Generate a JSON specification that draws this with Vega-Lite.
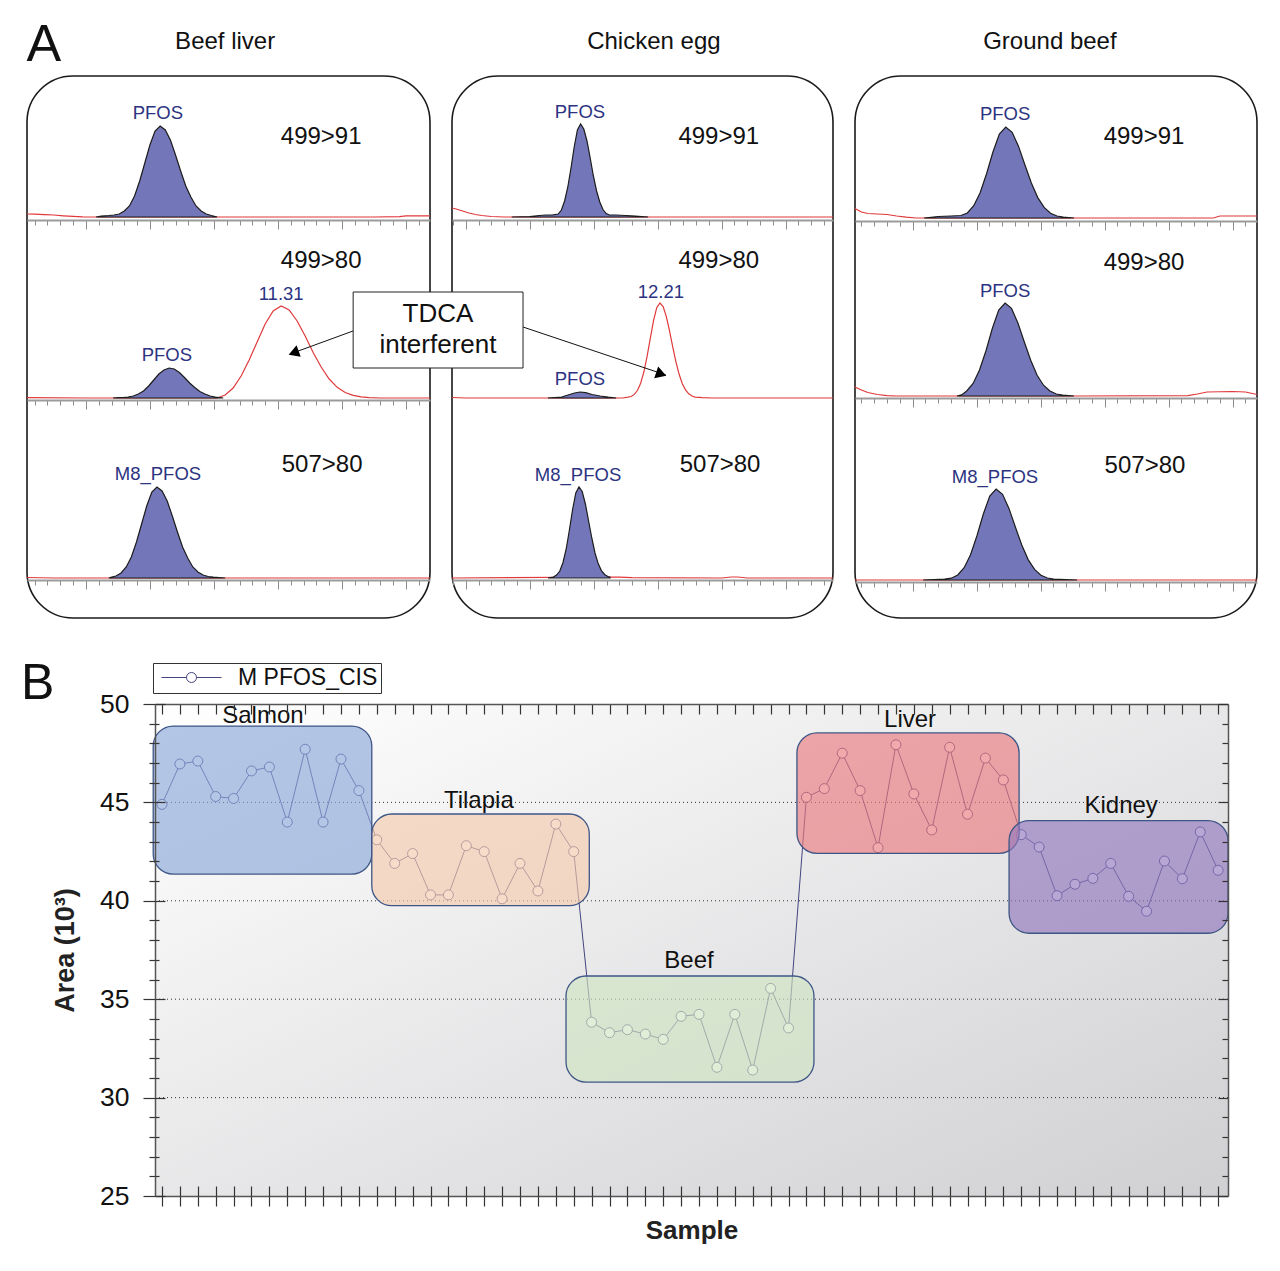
{
"$schema":"https://vega.github.io/schema/vega-lite/v6.json",
"background":"#ffffff",
"padding":{"left":21,"top":18,"right":0,"bottom":0},
"config":{"font":"Liberation Sans","view":{"stroke":null},"axis":{"labelFont":"Liberation Sans","titleFont":"Liberation Sans"},"legend":{"labelFont":"Liberation Sans"},"text":{"font":"Liberation Sans"}},
"spacing":39,
"vconcat":[
{"hconcat":[
{"width":403,"height":542,
"view":{"stroke":"#1a1a1a","strokeWidth":1.6,"cornerRadius":46},
"resolve":{"scale":{"y":"independent"},"axis":{"x":"independent"}},
"layer":[
{"encoding":{"x":{"field":"t","type":"quantitative","scale":{"domain":[10.516,11.775],"nice":false,"zero":false},"axis":{"orient":"bottom","offset":-398,"values":[10.54,10.58,10.62,10.66,10.70,10.74,10.78,10.82,10.86,10.90,10.94,10.98,11.02,11.06,11.10,11.14,11.18,11.22,11.26,11.30,11.34,11.38,11.42,11.46,11.50,11.54,11.58,11.62,11.66,11.70,11.74],"labels":false,"title":null,"grid":false,"domainColor":"#9b9b9b","domainWidth":2,"tickColor":"#8c8c8c","tickWidth":1,"tickSize":{"condition":{"test":"abs((datum.value-0.1)*5-round((datum.value-0.1)*5))<0.02","value":9},"value":5}}},
"y":{"field":"i","type":"quantitative","scale":{"domain":[-401,141],"nice":false,"zero":false},"axis":null}},
"layer":[
{"data":{"values":[{"t":10.516,"i":3},{"t":10.54,"i":2.8},{"t":10.57,"i":2.4},{"t":10.6,"i":2},{"t":10.63,"i":1.2},{"t":10.66,"i":0.6},{"t":10.69,"i":0.2},{"t":10.73,"i":0},{"t":11.11,"i":0},{"t":11.6,"i":0},{"t":11.68,"i":0.3},{"t":11.7,"i":1.2},{"t":11.775,"i":1.2}]},"mark":{"type":"line","color":"#e0393b","strokeWidth":1.2}},
{"data":{"values":[{"t":10.732,"i":0},{"t":10.748,"i":1},{"t":10.772,"i":1.5},{"t":10.788,"i":2},{"t":10.804,"i":3},{"t":10.82,"i":6},{"t":10.836,"i":11},{"t":10.852,"i":21},{"t":10.868,"i":36},{"t":10.884,"i":54},{"t":10.9,"i":72},{"t":10.916,"i":86},{"t":10.932,"i":91},{"t":10.948,"i":87},{"t":10.964,"i":77},{"t":10.98,"i":62},{"t":10.996,"i":46},{"t":11.012,"i":31},{"t":11.028,"i":20},{"t":11.044,"i":11},{"t":11.06,"i":6},{"t":11.076,"i":3},{"t":11.092,"i":1.5},{"t":11.11,"i":0}]},"mark":{"type":"area","fill":"#7377b9","stroke":"#1c1c1c","strokeWidth":1.2},"encoding":{"y2":{"datum":0}}},
{"data":{"values":[{"t":10.732},{"t":11.11}]},"mark":{"type":"rule","color":"#1c1c1c","strokeWidth":1.3},"encoding":{"y":{"datum":-7,"type":"quantitative","scale":{"domain":[-401,141],"nice":false,"zero":false},"axis":null},"y2":{"datum":7}}},
{"data":{"values":[{"t":10.925,"i":104,"label":"PFOS"}]},"mark":{"type":"text","color":"#2c3381","fontSize":18.5},"encoding":{"text":{"field":"label"}}},
{"data":{"values":[{"t":11.435,"i":80,"label":"499>91"}]},"mark":{"type":"text","color":"#111111","fontSize":24},"encoding":{"text":{"field":"label"}}}
]},
{"encoding":{"x":{"field":"t","type":"quantitative","scale":{"domain":[10.516,11.775],"nice":false,"zero":false},"axis":{"orient":"bottom","offset":-218,"values":[10.54,10.58,10.62,10.66,10.70,10.74,10.78,10.82,10.86,10.90,10.94,10.98,11.02,11.06,11.10,11.14,11.18,11.22,11.26,11.30,11.34,11.38,11.42,11.46,11.50,11.54,11.58,11.62,11.66,11.70,11.74],"labels":false,"title":null,"grid":false,"domainColor":"#9b9b9b","domainWidth":2,"tickColor":"#8c8c8c","tickWidth":1,"tickSize":{"condition":{"test":"abs((datum.value-0.1)*5-round((datum.value-0.1)*5))<0.02","value":9},"value":5}}},
"y":{"field":"i","type":"quantitative","scale":{"domain":[-220,322],"nice":false,"zero":false},"axis":null}},
"layer":[
{"data":{"values":[{"t":10.516,"i":0.3},{"t":10.7,"i":0},{"t":11.11,"i":0},{"t":11.135,"i":3},{"t":11.16,"i":10},{"t":11.185,"i":22},{"t":11.21,"i":38},{"t":11.235,"i":56},{"t":11.26,"i":74},{"t":11.285,"i":87},{"t":11.31,"i":92},{"t":11.335,"i":88},{"t":11.36,"i":77},{"t":11.385,"i":62},{"t":11.41,"i":45.5},{"t":11.435,"i":31},{"t":11.46,"i":19},{"t":11.485,"i":10.7},{"t":11.51,"i":5.5},{"t":11.535,"i":2.7},{"t":11.56,"i":1.1},{"t":11.585,"i":0.3},{"t":11.62,"i":0},{"t":11.775,"i":0}]},"mark":{"type":"line","color":"#e0393b","strokeWidth":1.2}},
{"data":{"values":[{"t":10.785,"i":0},{"t":10.8,"i":0.3},{"t":10.816,"i":0.5},{"t":10.832,"i":1},{"t":10.848,"i":2},{"t":10.864,"i":4},{"t":10.88,"i":7},{"t":10.896,"i":12},{"t":10.912,"i":18},{"t":10.928,"i":24},{"t":10.944,"i":28},{"t":10.96,"i":30},{"t":10.976,"i":29},{"t":10.992,"i":25.5},{"t":11.008,"i":20.5},{"t":11.024,"i":15},{"t":11.04,"i":10.5},{"t":11.056,"i":6.5},{"t":11.072,"i":4},{"t":11.088,"i":2},{"t":11.104,"i":1},{"t":11.129,"i":0}]},"mark":{"type":"area","fill":"#7377b9","stroke":"#1c1c1c","strokeWidth":1.2},"encoding":{"y2":{"datum":0}}},
{"data":{"values":[{"t":10.785},{"t":11.129}]},"mark":{"type":"rule","color":"#1c1c1c","strokeWidth":1.3},"encoding":{"y":{"datum":-7,"type":"quantitative","scale":{"domain":[-220,322],"nice":false,"zero":false},"axis":null},"y2":{"datum":7}}},
{"data":{"values":[{"t":10.953,"i":43,"label":"PFOS"},{"t":11.31,"i":104,"label":"11.31"}]},"mark":{"type":"text","color":"#2c3381","fontSize":18.5},"encoding":{"text":{"field":"label"}}},
{"data":{"values":[{"t":11.435,"i":137,"label":"499>80"}]},"mark":{"type":"text","color":"#111111","fontSize":24},"encoding":{"text":{"field":"label"}}}
]},
{"encoding":{"x":{"field":"t","type":"quantitative","scale":{"domain":[10.516,11.775],"nice":false,"zero":false},"axis":{"orient":"bottom","offset":-38,"values":[10.54,10.58,10.62,10.66,10.70,10.74,10.78,10.82,10.86,10.90,10.94,10.98,11.02,11.06,11.10,11.14,11.18,11.22,11.26,11.30,11.34,11.38,11.42,11.46,11.50,11.54,11.58,11.62,11.66,11.70,11.74],"labels":false,"title":null,"grid":false,"domainColor":"#9b9b9b","domainWidth":2,"tickColor":"#8c8c8c","tickWidth":1,"tickSize":{"condition":{"test":"abs((datum.value-0.1)*5-round((datum.value-0.1)*5))<0.02","value":9},"value":5}}},
"y":{"field":"i","type":"quantitative","scale":{"domain":[-40,502],"nice":false,"zero":false},"axis":null}},
"layer":[
{"data":{"values":[{"t":10.516,"i":0.5},{"t":10.6,"i":0},{"t":11.775,"i":0}]},"mark":{"type":"line","color":"#e0393b","strokeWidth":1.2}},
{"data":{"values":[{"t":10.772,"i":0},{"t":10.778,"i":0.8},{"t":10.794,"i":2},{"t":10.81,"i":5},{"t":10.826,"i":11},{"t":10.842,"i":21},{"t":10.858,"i":36},{"t":10.874,"i":54},{"t":10.89,"i":72},{"t":10.906,"i":86},{"t":10.922,"i":91},{"t":10.938,"i":87},{"t":10.954,"i":77},{"t":10.97,"i":62},{"t":10.986,"i":46},{"t":11.002,"i":31},{"t":11.018,"i":20},{"t":11.034,"i":11},{"t":11.05,"i":6},{"t":11.066,"i":3},{"t":11.082,"i":1.5},{"t":11.098,"i":0.8},{"t":11.135,"i":0}]},"mark":{"type":"area","fill":"#7377b9","stroke":"#1c1c1c","strokeWidth":1.2},"encoding":{"y2":{"datum":0}}},
{"data":{"values":[{"t":10.772},{"t":11.135}]},"mark":{"type":"rule","color":"#1c1c1c","strokeWidth":1.3},"encoding":{"y":{"datum":-7,"type":"quantitative","scale":{"domain":[-40,502],"nice":false,"zero":false},"axis":null},"y2":{"datum":7}}},
{"data":{"values":[{"t":10.925,"i":104,"label":"M8_PFOS"}]},"mark":{"type":"text","color":"#2c3381","fontSize":18.5},"encoding":{"text":{"field":"label"}}},
{"data":{"values":[{"t":11.438,"i":113,"label":"507>80"}]},"mark":{"type":"text","color":"#111111","fontSize":24},"encoding":{"text":{"field":"label"}}}
]},
{"data":{"values":[{}]},"mark":{"type":"text","text":"A","fontSize":52,"color":"#111111"},"encoding":{"x":{"datum":10.569,"type":"quantitative","scale":{"domain":[10.516,11.775],"nice":false,"zero":false},"axis":null},"y":{"datum":172,"type":"quantitative","scale":{"domain":[-401,141],"nice":false,"zero":false},"axis":null}}},
{"data":{"values":[{}]},"mark":{"type":"text","text":"Beef liver","fontSize":24,"color":"#111111"},"encoding":{"x":{"datum":11.135,"type":"quantitative","scale":{"domain":[10.516,11.775],"nice":false,"zero":false},"axis":null},"y":{"datum":175.5,"type":"quantitative","scale":{"domain":[-401,141],"nice":false,"zero":false},"axis":null}}}
]},
{"width":381,"height":542,
"view":{"stroke":"#1a1a1a","strokeWidth":1.6,"cornerRadius":46},
"resolve":{"scale":{"y":"independent"},"axis":{"x":"independent"}},
"layer":[
{"encoding":{"x":{"field":"t","type":"quantitative","scale":{"domain":[11.557,12.748],"nice":false,"zero":false},"axis":{"orient":"bottom","offset":-398,"values":[11.56,11.60,11.64,11.68,11.72,11.76,11.80,11.84,11.88,11.92,11.96,12.00,12.04,12.08,12.12,12.16,12.20,12.24,12.28,12.32,12.36,12.40,12.44,12.48,12.52,12.56,12.60,12.64,12.68,12.72],"labels":false,"title":null,"grid":false,"domainColor":"#9b9b9b","domainWidth":2,"tickColor":"#8c8c8c","tickWidth":1,"tickSize":{"condition":{"test":"abs(datum.value*5-round(datum.value*5))<0.02","value":9},"value":5}}},
"y":{"field":"i","type":"quantitative","scale":{"domain":[-401,141],"nice":false,"zero":false},"axis":null}},
"layer":[
{"data":{"values":[{"t":11.557,"i":9},{"t":11.57,"i":8},{"t":11.59,"i":6},{"t":11.61,"i":4},{"t":11.63,"i":2.5},{"t":11.65,"i":1.5},{"t":11.68,"i":0.5},{"t":11.72,"i":0},{"t":12.748,"i":0}]},"mark":{"type":"line","color":"#e0393b","strokeWidth":1.2}},
{"data":{"values":[{"t":11.744,"i":0},{"t":11.8,"i":0.5},{"t":11.83,"i":1.5},{"t":11.85,"i":2},{"t":11.87,"i":2},{"t":11.889,"i":3},{"t":11.899,"i":7},{"t":11.909,"i":16},{"t":11.919,"i":30},{"t":11.929,"i":49},{"t":11.939,"i":70},{"t":11.949,"i":87},{"t":11.959,"i":93},{"t":11.969,"i":88},{"t":11.979,"i":76},{"t":11.989,"i":59},{"t":11.999,"i":41},{"t":12.009,"i":26},{"t":12.019,"i":15},{"t":12.029,"i":7.5},{"t":12.039,"i":3.5},{"t":12.049,"i":2},{"t":12.07,"i":2},{"t":12.1,"i":1.5},{"t":12.13,"i":1},{"t":12.17,"i":0}]},"mark":{"type":"area","fill":"#7377b9","stroke":"#1c1c1c","strokeWidth":1.2},"encoding":{"y2":{"datum":0}}},
{"data":{"values":[{"t":11.744},{"t":12.17}]},"mark":{"type":"rule","color":"#1c1c1c","strokeWidth":1.3},"encoding":{"y":{"datum":-7,"type":"quantitative","scale":{"domain":[-401,141],"nice":false,"zero":false},"axis":null},"y2":{"datum":7}}},
{"data":{"values":[{"t":11.957,"i":105,"label":"PFOS"}]},"mark":{"type":"text","color":"#2c3381","fontSize":18.5},"encoding":{"text":{"field":"label"}}},
{"data":{"values":[{"t":12.391,"i":80,"label":"499>91"}]},"mark":{"type":"text","color":"#111111","fontSize":24},"encoding":{"text":{"field":"label"}}}
]},
{"encoding":{"x":{"field":"t","type":"quantitative","scale":{"domain":[11.557,12.748],"nice":false,"zero":false},"axis":{"orient":"bottom","offset":-218,"values":[11.56,11.60,11.64,11.68,11.72,11.76,11.80,11.84,11.88,11.92,11.96,12.00,12.04,12.08,12.12,12.16,12.20,12.24,12.28,12.32,12.36,12.40,12.44,12.48,12.52,12.56,12.60,12.64,12.68,12.72],"labels":false,"title":null,"grid":false,"domainColor":"#9b9b9b","domainWidth":2,"tickColor":"#8c8c8c","tickWidth":1,"tickSize":{"condition":{"test":"abs(datum.value*5-round(datum.value*5))<0.02","value":9},"value":5}}},
"y":{"field":"i","type":"quantitative","scale":{"domain":[-220,322],"nice":false,"zero":false},"axis":null}},
"layer":[
{"data":{"values":[{"t":11.557,"i":0.5},{"t":11.6,"i":0},{"t":12.09,"i":0},{"t":12.107,"i":0.8},{"t":12.117,"i":1.5},{"t":12.127,"i":3.6},{"t":12.137,"i":7.7},{"t":12.147,"i":15},{"t":12.157,"i":26.4},{"t":12.167,"i":41.8},{"t":12.177,"i":59.9},{"t":12.187,"i":77.4},{"t":12.197,"i":90.3},{"t":12.207,"i":95},{"t":12.217,"i":91.4},{"t":12.227,"i":81.4},{"t":12.237,"i":67.1},{"t":12.247,"i":51.2},{"t":12.257,"i":36.2},{"t":12.267,"i":23.7},{"t":12.277,"i":14.3},{"t":12.287,"i":8.1},{"t":12.297,"i":4.2},{"t":12.307,"i":2},{"t":12.317,"i":0.9},{"t":12.34,"i":0.3},{"t":12.37,"i":0},{"t":12.748,"i":0}]},"mark":{"type":"line","color":"#e0393b","strokeWidth":1.2}},
{"data":{"values":[{"t":11.857,"i":0},{"t":11.9,"i":1},{"t":11.92,"i":3},{"t":11.94,"i":5},{"t":11.957,"i":6},{"t":11.975,"i":5.3},{"t":11.995,"i":3.5},{"t":12.02,"i":2},{"t":12.045,"i":0.8},{"t":12.07,"i":0}]},"mark":{"type":"area","fill":"#7377b9","stroke":"#1c1c1c","strokeWidth":1.2},"encoding":{"y2":{"datum":0}}},
{"data":{"values":[{"t":11.857},{"t":12.07}]},"mark":{"type":"rule","color":"#1c1c1c","strokeWidth":1.3},"encoding":{"y":{"datum":-7,"type":"quantitative","scale":{"domain":[-220,322],"nice":false,"zero":false},"axis":null},"y2":{"datum":7}}},
{"data":{"values":[{"t":11.957,"i":19,"label":"PFOS"},{"t":12.21,"i":106,"label":"12.21"}]},"mark":{"type":"text","color":"#2c3381","fontSize":18.5},"encoding":{"text":{"field":"label"}}},
{"data":{"values":[{"t":12.391,"i":137,"label":"499>80"}]},"mark":{"type":"text","color":"#111111","fontSize":24},"encoding":{"text":{"field":"label"}}},
{"data":{"values":[{"x1":11.2476,"y1":67,"x2":11.0508,"y2":44},{"x1":11.779,"y1":71,"x2":12.2258,"y2":23}]},"mark":{"type":"rule","color":"#111111","strokeWidth":1},"encoding":{"x":{"field":"x1","type":"quantitative","scale":{"domain":[11.557,12.748],"nice":false,"zero":false},"axis":null},"x2":{"field":"x2"},"y":{"field":"y1","type":"quantitative","scale":{"domain":[-220,322],"nice":false,"zero":false},"axis":null},"y2":{"field":"y2"}}},
{"data":{"values":[{"t":11.062,"i":45.1}]},"mark":{"type":"point","shape":"triangle-up","filled":true,"color":"#000000","size":150,"angle":250,"opacity":1}},
{"data":{"values":[{"t":12.211,"i":23.9}]},"mark":{"type":"point","shape":"triangle-up","filled":true,"color":"#000000","size":150,"angle":109,"opacity":1}},
{"data":{"values":[{"x1":11.248,"x2":11.779,"y1":30,"y2":106}]},"mark":{"type":"rect","fill":"#ffffff","stroke":"#222222","strokeWidth":1},"encoding":{"x":{"field":"x1","type":"quantitative","scale":{"domain":[11.557,12.748],"nice":false,"zero":false},"axis":null},"x2":{"field":"x2"},"y":{"field":"y1","type":"quantitative","scale":{"domain":[-220,322],"nice":false,"zero":false},"axis":null},"y2":{"field":"y2"}}},
{"data":{"values":[{"t":11.513,"i":84,"label":"TDCA"},{"t":11.513,"i":53,"label":"interferent"}]},"mark":{"type":"text","color":"#111111","fontSize":26},"encoding":{"text":{"field":"label"}}}
]},
{"encoding":{"x":{"field":"t","type":"quantitative","scale":{"domain":[11.557,12.748],"nice":false,"zero":false},"axis":{"orient":"bottom","offset":-38,"values":[11.56,11.60,11.64,11.68,11.72,11.76,11.80,11.84,11.88,11.92,11.96,12.00,12.04,12.08,12.12,12.16,12.20,12.24,12.28,12.32,12.36,12.40,12.44,12.48,12.52,12.56,12.60,12.64,12.68,12.72],"labels":false,"title":null,"grid":false,"domainColor":"#9b9b9b","domainWidth":2,"tickColor":"#8c8c8c","tickWidth":1,"tickSize":{"condition":{"test":"abs(datum.value*5-round(datum.value*5))<0.02","value":9},"value":5}}},
"y":{"field":"i","type":"quantitative","scale":{"domain":[-40,502],"nice":false,"zero":false},"axis":null}},
"layer":[
{"data":{"values":[{"t":11.557,"i":0},{"t":12.05,"i":1},{"t":12.08,"i":0.8},{"t":12.12,"i":0.3},{"t":12.4,"i":0},{"t":12.43,"i":1},{"t":12.45,"i":1},{"t":12.48,"i":0},{"t":12.748,"i":0}]},"mark":{"type":"line","color":"#e0393b","strokeWidth":1.2}},
{"data":{"values":[{"t":11.857,"i":0},{"t":11.874,"i":1},{"t":11.884,"i":3},{"t":11.894,"i":7},{"t":11.904,"i":15.5},{"t":11.914,"i":29},{"t":11.924,"i":48},{"t":11.934,"i":68.5},{"t":11.944,"i":85},{"t":11.954,"i":91},{"t":11.964,"i":86.5},{"t":11.974,"i":74},{"t":11.984,"i":57},{"t":11.994,"i":40},{"t":12.004,"i":25},{"t":12.014,"i":14.4},{"t":12.024,"i":7.4},{"t":12.034,"i":3.5},{"t":12.044,"i":1.5},{"t":12.051,"i":0.8}]},"mark":{"type":"area","fill":"#7377b9","stroke":"#1c1c1c","strokeWidth":1.2},"encoding":{"y2":{"datum":0}}},
{"data":{"values":[{"t":11.857},{"t":12.051}]},"mark":{"type":"rule","color":"#1c1c1c","strokeWidth":1.3},"encoding":{"y":{"datum":-7,"type":"quantitative","scale":{"domain":[-40,502],"nice":false,"zero":false},"axis":null},"y2":{"datum":7}}},
{"data":{"values":[{"t":11.951,"i":103,"label":"M8_PFOS"}]},"mark":{"type":"text","color":"#2c3381","fontSize":18.5},"encoding":{"text":{"field":"label"}}},
{"data":{"values":[{"t":12.395,"i":113,"label":"507>80"}]},"mark":{"type":"text","color":"#111111","fontSize":24},"encoding":{"text":{"field":"label"}}}
]},
{"data":{"values":[{}]},"mark":{"type":"text","text":"Chicken egg","fontSize":24,"color":"#111111"},"encoding":{"x":{"datum":12.188,"type":"quantitative","scale":{"domain":[11.557,12.748],"nice":false,"zero":false},"axis":null},"y":{"datum":175.5,"type":"quantitative","scale":{"domain":[-401,141],"nice":false,"zero":false},"axis":null}}}
]},
{"width":402,"height":542,
"view":{"stroke":"#1a1a1a","strokeWidth":1.6,"cornerRadius":46},
"resolve":{"scale":{"y":"independent"},"axis":{"x":"independent"}},
"layer":[
{"encoding":{"x":{"field":"t","type":"quantitative","scale":{"domain":[10.42,11.676],"nice":false,"zero":false},"axis":{"orient":"bottom","offset":-397,"values":[10.44,10.48,10.52,10.56,10.60,10.64,10.68,10.72,10.76,10.80,10.84,10.88,10.92,10.96,11.00,11.04,11.08,11.12,11.16,11.20,11.24,11.28,11.32,11.36,11.40,11.44,11.48,11.52,11.56,11.60,11.64],"labels":false,"title":null,"grid":false,"domainColor":"#9b9b9b","domainWidth":2,"tickColor":"#8c8c8c","tickWidth":1,"tickSize":{"condition":{"test":"abs(datum.value*5-round(datum.value*5))<0.02","value":9},"value":5}}},
"y":{"field":"i","type":"quantitative","scale":{"domain":[-400,142],"nice":false,"zero":false},"axis":null}},
"layer":[
{"data":{"values":[{"t":10.42,"i":9.5},{"t":10.44,"i":6},{"t":10.46,"i":4.5},{"t":10.49,"i":4},{"t":10.52,"i":3.5},{"t":10.55,"i":2},{"t":10.58,"i":0.8},{"t":10.61,"i":0},{"t":11.1,"i":0},{"t":11.54,"i":0},{"t":11.56,"i":2},{"t":11.676,"i":2}]},"mark":{"type":"line","color":"#e0393b","strokeWidth":1.2}},
{"data":{"values":[{"t":10.636,"i":0},{"t":10.68,"i":1.5},{"t":10.72,"i":2},{"t":10.751,"i":2.5},{"t":10.771,"i":5},{"t":10.791,"i":12.3},{"t":10.811,"i":25.3},{"t":10.831,"i":44.3},{"t":10.851,"i":66},{"t":10.871,"i":84},{"t":10.891,"i":91},{"t":10.911,"i":85.7},{"t":10.931,"i":71.6},{"t":10.951,"i":53},{"t":10.971,"i":35},{"t":10.991,"i":20.4},{"t":11.011,"i":10.6},{"t":11.031,"i":4.8},{"t":11.051,"i":2},{"t":11.071,"i":0.8},{"t":11.104,"i":0}]},"mark":{"type":"area","fill":"#7377b9","stroke":"#1c1c1c","strokeWidth":1.2},"encoding":{"y2":{"datum":0}}},
{"data":{"values":[{"t":10.636},{"t":11.104}]},"mark":{"type":"rule","color":"#1c1c1c","strokeWidth":1.3},"encoding":{"y":{"datum":-7,"type":"quantitative","scale":{"domain":[-400,142],"nice":false,"zero":false},"axis":null},"y2":{"datum":7}}},
{"data":{"values":[{"t":10.889,"i":104,"label":"PFOS"}]},"mark":{"type":"text","color":"#2c3381","fontSize":18.5},"encoding":{"text":{"field":"label"}}},
{"data":{"values":[{"t":11.323,"i":81,"label":"499>91"}]},"mark":{"type":"text","color":"#111111","fontSize":24},"encoding":{"text":{"field":"label"}}}
]},
{"encoding":{"x":{"field":"t","type":"quantitative","scale":{"domain":[10.42,11.676],"nice":false,"zero":false},"axis":{"orient":"bottom","offset":-220,"values":[10.44,10.48,10.52,10.56,10.60,10.64,10.68,10.72,10.76,10.80,10.84,10.88,10.92,10.96,11.00,11.04,11.08,11.12,11.16,11.20,11.24,11.28,11.32,11.36,11.40,11.44,11.48,11.52,11.56,11.60,11.64],"labels":false,"title":null,"grid":false,"domainColor":"#9b9b9b","domainWidth":2,"tickColor":"#8c8c8c","tickWidth":1,"tickSize":{"condition":{"test":"abs(datum.value*5-round(datum.value*5))<0.02","value":9},"value":5}}},
"y":{"field":"i","type":"quantitative","scale":{"domain":[-222,320],"nice":false,"zero":false},"axis":null}},
"layer":[
{"data":{"values":[{"t":10.42,"i":9},{"t":10.44,"i":6},{"t":10.46,"i":3.5},{"t":10.49,"i":1.5},{"t":10.52,"i":0.3},{"t":10.55,"i":0},{"t":11.1,"i":0},{"t":11.46,"i":0.3},{"t":11.49,"i":2},{"t":11.52,"i":4},{"t":11.6,"i":4.5},{"t":11.64,"i":4},{"t":11.676,"i":1.5}]},"mark":{"type":"line","color":"#e0393b","strokeWidth":1.2}},
{"data":{"values":[{"t":10.739,"i":0},{"t":10.755,"i":1.5},{"t":10.769,"i":5},{"t":10.789,"i":12.5},{"t":10.809,"i":26},{"t":10.829,"i":45},{"t":10.849,"i":67.5},{"t":10.869,"i":86},{"t":10.889,"i":93},{"t":10.909,"i":87.6},{"t":10.929,"i":73},{"t":10.949,"i":54},{"t":10.969,"i":35.7},{"t":10.989,"i":20.8},{"t":11.009,"i":10.8},{"t":11.029,"i":5},{"t":11.049,"i":2},{"t":11.069,"i":0.8},{"t":11.104,"i":0}]},"mark":{"type":"area","fill":"#7377b9","stroke":"#1c1c1c","strokeWidth":1.2},"encoding":{"y2":{"datum":0}}},
{"data":{"values":[{"t":10.739},{"t":11.104}]},"mark":{"type":"rule","color":"#1c1c1c","strokeWidth":1.3},"encoding":{"y":{"datum":-7,"type":"quantitative","scale":{"domain":[-222,320],"nice":false,"zero":false},"axis":null},"y2":{"datum":7}}},
{"data":{"values":[{"t":10.889,"i":105,"label":"PFOS"}]},"mark":{"type":"text","color":"#2c3381","fontSize":18.5},"encoding":{"text":{"field":"label"}}},
{"data":{"values":[{"t":11.323,"i":133,"label":"499>80"}]},"mark":{"type":"text","color":"#111111","fontSize":24},"encoding":{"text":{"field":"label"}}}
]},
{"encoding":{"x":{"field":"t","type":"quantitative","scale":{"domain":[10.42,11.676],"nice":false,"zero":false},"axis":{"orient":"bottom","offset":-36,"values":[10.44,10.48,10.52,10.56,10.60,10.64,10.68,10.72,10.76,10.80,10.84,10.88,10.92,10.96,11.00,11.04,11.08,11.12,11.16,11.20,11.24,11.28,11.32,11.36,11.40,11.44,11.48,11.52,11.56,11.60,11.64],"labels":false,"title":null,"grid":false,"domainColor":"#9b9b9b","domainWidth":2,"tickColor":"#8c8c8c","tickWidth":1,"tickSize":{"condition":{"test":"abs(datum.value*5-round(datum.value*5))<0.02","value":9},"value":5}}},
"y":{"field":"i","type":"quantitative","scale":{"domain":[-38,504],"nice":false,"zero":false},"axis":null}},
"layer":[
{"data":{"values":[{"t":10.42,"i":0},{"t":11.676,"i":0}]},"mark":{"type":"line","color":"#e0393b","strokeWidth":1.2}},
{"data":{"values":[{"t":10.633,"i":0},{"t":10.7,"i":0.8},{"t":10.721,"i":1.8},{"t":10.741,"i":5},{"t":10.761,"i":12.3},{"t":10.781,"i":25.3},{"t":10.801,"i":44.3},{"t":10.821,"i":66},{"t":10.841,"i":84},{"t":10.861,"i":91},{"t":10.881,"i":85.7},{"t":10.901,"i":71.6},{"t":10.921,"i":53},{"t":10.941,"i":35},{"t":10.961,"i":20.4},{"t":10.981,"i":10.6},{"t":11.001,"i":4.8},{"t":11.021,"i":2},{"t":11.041,"i":0.8},{"t":11.114,"i":0}]},"mark":{"type":"area","fill":"#7377b9","stroke":"#1c1c1c","strokeWidth":1.2},"encoding":{"y2":{"datum":0}}},
{"data":{"values":[{"t":10.633},{"t":11.114}]},"mark":{"type":"rule","color":"#1c1c1c","strokeWidth":1.3},"encoding":{"y":{"datum":-7,"type":"quantitative","scale":{"domain":[-38,504],"nice":false,"zero":false},"axis":null},"y2":{"datum":7}}},
{"data":{"values":[{"t":10.8575,"i":103,"label":"M8_PFOS"}]},"mark":{"type":"text","color":"#2c3381","fontSize":18.5},"encoding":{"text":{"field":"label"}}},
{"data":{"values":[{"t":11.326,"i":114,"label":"507>80"}]},"mark":{"type":"text","color":"#111111","fontSize":24},"encoding":{"text":{"field":"label"}}}
]},
{"data":{"values":[{}]},"mark":{"type":"text","text":"Ground beef","fontSize":24,"color":"#111111"},"encoding":{"x":{"datum":11.029,"type":"quantitative","scale":{"domain":[10.42,11.676],"nice":false,"zero":false},"axis":null},"y":{"datum":176.5,"type":"quantitative","scale":{"domain":[-400,142],"nice":false,"zero":false},"axis":null}}}
]}
],"spacing":22,"bounds":"flush"},
{"hconcat":[
{"width":1,"height":1,"data":{"values":[]},"mark":{"type":"point","opacity":0}},
{"width":1073,"height":492,
"data":{"values":[
{"sample":1,"area":44.9},{"sample":2,"area":46.95},{"sample":3,"area":47.1},{"sample":4,"area":45.3},{"sample":5,"area":45.2},{"sample":6,"area":46.6},{"sample":7,"area":46.8},{"sample":8,"area":44.0},{"sample":9,"area":47.7},{"sample":10,"area":44.0},{"sample":11,"area":47.2},{"sample":12,"area":45.6},
{"sample":13,"area":43.1},{"sample":14,"area":41.9},{"sample":15,"area":42.4},{"sample":16,"area":40.3},{"sample":17,"area":40.3},{"sample":18,"area":42.8},{"sample":19,"area":42.5},{"sample":20,"area":40.1},{"sample":21,"area":41.9},{"sample":22,"area":40.5},{"sample":23,"area":43.9},{"sample":24,"area":42.5},
{"sample":25,"area":33.83},{"sample":26,"area":33.3},{"sample":27,"area":33.45},{"sample":28,"area":33.23},{"sample":29,"area":32.96},{"sample":30,"area":34.13},{"sample":31,"area":34.23},{"sample":32,"area":31.54},{"sample":33,"area":34.23},{"sample":34,"area":31.4},{"sample":35,"area":35.55},{"sample":36,"area":33.54},
{"sample":37,"area":45.26},{"sample":38,"area":45.7},{"sample":39,"area":47.5},{"sample":40,"area":45.6},{"sample":41,"area":42.7},{"sample":42,"area":47.93},{"sample":43,"area":45.43},{"sample":44,"area":43.6},{"sample":45,"area":47.8},{"sample":46,"area":44.4},{"sample":47,"area":47.25},{"sample":48,"area":46.14},
{"sample":49,"area":43.36},{"sample":50,"area":42.73},{"sample":51,"area":40.26},{"sample":52,"area":40.84},{"sample":53,"area":41.14},{"sample":54,"area":41.9},{"sample":55,"area":40.23},{"sample":56,"area":39.47},{"sample":57,"area":42.02},{"sample":58,"area":41.12},{"sample":59,"area":43.5},{"sample":60,"area":41.55}
]},
"resolve":{"axis":{"x":"independent","y":"independent"}},
"layer":[
{"data":{"values":[{}]},"mark":{"type":"rect","color":{"gradient":"linear","x1":0,"y1":0,"x2":1,"y2":1,"stops":[{"offset":0,"color":"#ffffff"},{"offset":1,"color":"#d0d0d3"}]}},
"encoding":{"x":{"datum":0.61,"type":"quantitative","scale":{"domain":[0.61,60.55],"nice":false,"zero":false},"axis":{"orient":"bottom","values":[1,2,3,4,5,6,7,8,9,10,11,12,13,14,15,16,17,18,19,20,21,22,23,24,25,26,27,28,29,30,31,32,33,34,35,36,37,38,39,40,41,42,43,44,45,46,47,48,49,50,51,52,53,54,55,56,57,58,59,60],"labels":false,"tickSize":10,"tickColor":"#333333","tickWidth":1.2,"domainColor":"#555555","domainWidth":1.5,"title":"Sample","titleFontSize":26,"titleFontWeight":"bold","titleColor":"#222222","titlePadding":11,"grid":false,"zindex":1}},
"x2":{"datum":60.55},
"y":{"datum":25,"type":"quantitative","scale":{"domain":[25,50],"nice":false,"zero":false},"axis":{"orient":"left","values":[25,26,27,28,29,30,31,32,33,34,35,36,37,38,39,40,41,42,43,44,45,46,47,48,49,50],"tickSize":{"condition":{"test":"datum.value % 5 === 0","value":12},"value":6},"tickColor":"#333333","tickWidth":1.2,"labelExpr":"datum.value % 5 === 0 ? datum.label : ''","labelFontSize":26.5,"labelColor":"#111111","labelPadding":14,"domainColor":"#555555","domainWidth":1.5,"title":"Area (10³)","titleFontSize":27,"titleFontWeight":"bold","titleColor":"#222222","titlePadding":20,"grid":false,"zindex":1}},
"y2":{"datum":50}}},
{"data":{"values":[{"level":30},{"level":35},{"level":40},{"level":45}]},"mark":{"type":"rule","color":"#333333","strokeDash":[1,3],"strokeWidth":1},
"encoding":{"y":{"field":"level","type":"quantitative","scale":{"domain":[25,50],"nice":false,"zero":false},"axis":{"orient":"left","values":[25,26,27,28,29,30,31,32,33,34,35,36,37,38,39,40,41,42,43,44,45,46,47,48,49,50],"tickSize":{"condition":{"test":"datum.value % 5 === 0","value":-10},"value":-4},"tickColor":"#333333","tickWidth":1.2,"labels":false,"domain":false,"title":null,"grid":false,"zindex":1}}}},
{"mark":{"type":"line","strokeWidth":1},
"encoding":{"x":{"field":"sample","type":"quantitative","scale":{"domain":[0.61,60.55],"nice":false,"zero":false},"axis":{"orient":"bottom","values":[1,2,3,4,5,6,7,8,9,10,11,12,13,14,15,16,17,18,19,20,21,22,23,24,25,26,27,28,29,30,31,32,33,34,35,36,37,38,39,40,41,42,43,44,45,46,47,48,49,50,51,52,53,54,55,56,57,58,59,60],"labels":false,"tickSize":-10,"tickColor":"#333333","tickWidth":1.2,"domain":false,"title":null,"grid":false,"zindex":1}},
"y":{"field":"area","type":"quantitative","scale":{"domain":[25,50],"nice":false,"zero":false},"axis":null},
"color":{"datum":"M PFOS_CIS","type":"nominal","scale":{"range":["#44447e"]},"legend":{"orient":"none","legendX":126,"legendY":587,"title":null,"symbolType":"M-3,0L-0.5,0M0.5,0L3,0M-0.5,0A0.5,0.5,0,1,1,0.5,0A0.5,0.5,0,1,1,-0.5,0","symbolSize":400,"symbolStrokeWidth":1,"symbolFillColor":"#ffffff","symbolStrokeColor":"#6a6a9c","symbolOffset":24,"labelFontSize":23,"labelColor":"#111111","labelOffset":35,"strokeColor":"#333333","padding":3,"fillColor":"#ffffff"}}}},
{"mark":{"type":"point","shape":"circle","filled":false,"fill":"#ffffff","size":100,"strokeWidth":1,"opacity":1},
"encoding":{"x":{"field":"sample","type":"quantitative","scale":{"domain":[0.61,60.55],"nice":false,"zero":false},"axis":{"orient":"top","values":[1,2,3,4,5,6,7,8,9,10,11,12,13,14,15,16,17,18,19,20,21,22,23,24,25,26,27,28,29,30,31,32,33,34,35,36,37,38,39,40,41,42,43,44,45,46,47,48,49,50,51,52,53,54,55,56,57,58,59,60],"labels":false,"tickSize":-10,"tickColor":"#333333","tickWidth":1.2,"domainColor":"#555555","domainWidth":1.5,"title":null,"grid":false,"zindex":1}},
"y":{"field":"area","type":"quantitative","scale":{"domain":[25,50],"nice":false,"zero":false},"axis":{"orient":"right","values":[25,26,27,28,29,30,31,32,33,34,35,36,37,38,39,40,41,42,43,44,45,46,47,48,49,50],"tickSize":{"condition":{"test":"datum.value % 5 === 0","value":-10},"value":-6},"tickColor":"#333333","tickWidth":1.2,"labels":false,"domainColor":"#555555","domainWidth":1.5,"title":null,"grid":false,"zindex":1}},
"color":{"datum":"M PFOS_CIS","type":"nominal","scale":{"range":["#44447e"]},"legend":{"orient":"none","legendX":126,"legendY":587,"title":null,"symbolType":"M-3,0L-0.5,0M0.5,0L3,0M-0.5,0A0.5,0.5,0,1,1,0.5,0A0.5,0.5,0,1,1,-0.5,0","symbolSize":400,"symbolStrokeWidth":1,"symbolFillColor":"#ffffff","symbolStrokeColor":"#6a6a9c","symbolOffset":24,"labelFontSize":23,"labelColor":"#111111","labelOffset":35,"strokeColor":"#333333","padding":3,"fillColor":"#ffffff"}}}},
{"data":{"values":[{"group":"Salmon","x1":0.51,"x2":12.72,"y1":41.36,"y2":48.88},{"group":"Tilapia","x1":12.72,"x2":24.87,"y1":39.75,"y2":44.41},{"group":"Beef","x1":23.57,"x2":37.42,"y1":30.79,"y2":36.18},{"group":"Liver","x1":36.47,"x2":48.88,"y1":42.41,"y2":48.53},{"group":"Kidney","x1":48.32,"x2":60.55,"y1":38.35,"y2":44.07}]},
"mark":{"type":"rect","cornerRadius":20,"fillOpacity":0.65,"stroke":"#3e5686","strokeWidth":1.3},
"encoding":{"x":{"field":"x1","type":"quantitative","scale":{"domain":[0.61,60.55],"nice":false,"zero":false},"axis":null},"x2":{"field":"x2"},"y":{"field":"y1","type":"quantitative","scale":{"domain":[25,50],"nice":false,"zero":false},"axis":null},"y2":{"field":"y2"},
"fill":{"field":"group","type":"nominal","scale":{"domain":["Salmon","Tilapia","Beef","Liver","Kidney"],"range":["#8ca8d9","#f3cbac","#cfe3c2","#ea7b80","#9278bd"]},"legend":null}}},
{"data":{"values":[{"group":"Salmon","lx":6.64,"ly":49.4},{"group":"Tilapia","lx":18.7,"ly":45.08},{"group":"Beef","lx":30.44,"ly":36.95},{"group":"Liver","lx":42.79,"ly":49.2},{"group":"Kidney","lx":54.58,"ly":44.8}]},
"mark":{"type":"text","fontSize":24,"color":"#111111"},
"encoding":{"x":{"field":"lx","type":"quantitative","scale":{"domain":[0.61,60.55],"nice":false,"zero":false},"axis":null},"y":{"field":"ly","type":"quantitative","scale":{"domain":[25,50],"nice":false,"zero":false},"axis":null},"text":{"field":"group"}}},
{"data":{"values":[{}]},"mark":{"type":"text","text":"B","fontSize":50,"color":"#111111"},
"encoding":{"x":{"datum":-5.94,"type":"quantitative","scale":{"domain":[0.61,60.55],"nice":false,"zero":false},"axis":null},"y":{"datum":51.02,"type":"quantitative","scale":{"domain":[25,50],"nice":false,"zero":false},"axis":null}}}
]}
],"spacing":-7}
]
}
